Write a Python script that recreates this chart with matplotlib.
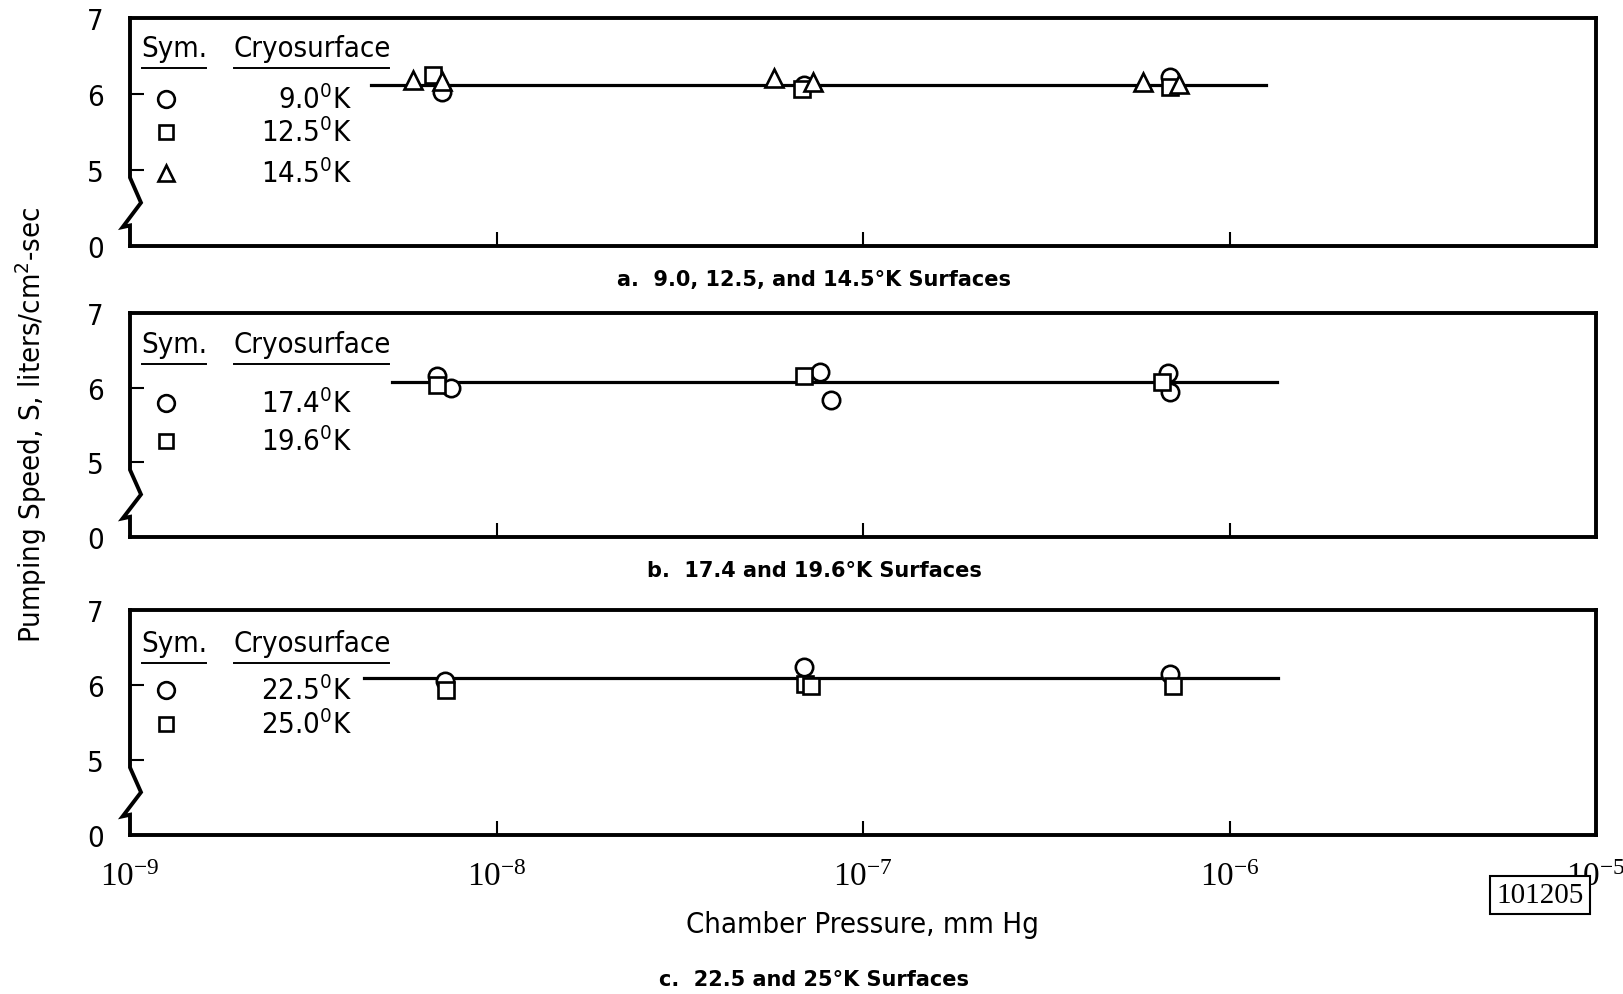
import numpy as np
import matplotlib
matplotlib.use("Agg")
import matplotlib.pyplot as plt

SANS = ["DejaVu Sans"]
SERIF = ["Liberation Serif", "DejaVu Serif"]
plt.rcParams["font.family"] = SANS
plt.rcParams["font.stretch"] = "condensed"
plt.rcParams["mathtext.fontset"] = "custom"

# ---- data (pressure in mm Hg, speed in liters/cm2-sec)
# panel a: 9.0, 12.5, 14.5 K
a_circle_p = [7.1e-9, 6.9e-8, 6.9e-7]
a_circle_s = [6.02, 6.12, 6.22]
a_square_p = [6.7e-9, 6.8e-8, 6.9e-7]
a_square_s = [6.25, 6.07, 6.09]
a_tri_p = [5.9e-9, 7.1e-9, 5.7e-8, 7.3e-8, 5.8e-7, 7.3e-7]
a_tri_s = [6.19, 6.17, 6.21, 6.16, 6.16, 6.13]
a_fit_p = [4.55e-9, 1.26e-6]
a_fit_s = [6.12, 6.12]

# panel b: 17.4, 19.6 K
b_circle_p = [6.9e-9, 7.5e-9, 7.65e-8, 8.2e-8, 6.8e-7, 6.9e-7]
b_circle_s = [6.15, 6.0, 6.21, 5.84, 6.19, 5.94]
b_square_p = [6.9e-9, 6.9e-8, 6.55e-7]
b_square_s = [6.03, 6.16, 6.07]
b_fit_p = [5.2e-9, 1.35e-6]
b_fit_s = [6.08, 6.08]

# panel c: 22.5, 25.0 K
c_circle_p = [7.25e-9, 6.9e-8, 6.9e-7]
c_circle_s = [6.06, 6.24, 6.15]
c_square_p = [7.3e-9, 6.95e-8, 7.2e-8, 7.0e-7]
c_square_s = [5.93, 6.01, 5.99, 5.99]
c_fit_p = [4.35e-9, 1.36e-6]
c_fit_s = [6.1, 6.1]

# broken y axis: real value 0 drawn where 4 would be
y_pos = [4, 5, 6, 7]
y_lab = ["0", "5", "6", "7"]
x_ticks = [1e-9, 1e-8, 1e-7, 1e-6, 1e-5]
x_lab = [r"$\mathregular{10^{-9}}$", r"$\mathregular{10^{-8}}$",
         r"$\mathregular{10^{-7}}$", r"$\mathregular{10^{-6}}$",
         r"$\mathregular{10^{-5}}$"]

panels = [
    dict(series=[("o", a_circle_p, a_circle_s), ("s", a_square_p, a_square_s),
                 ("^", a_tri_p, a_tri_s)],
         fit=(a_fit_p, a_fit_s),
         legend=[("o", r"$\mathregular{9.0^0K}$"), ("s", r"$\mathregular{12.5^0K}$"),
                 ("^", r"$\mathregular{14.5^0K}$")],
         caption="a.  9.0, 12.5, and 14.5°K Surfaces"),
    dict(series=[("o", b_circle_p, b_circle_s), ("s", b_square_p, b_square_s)],
         fit=(b_fit_p, b_fit_s),
         legend=[("o", r"$\mathregular{17.4^0K}$"), ("s", r"$\mathregular{19.6^0K}$")],
         caption="b.  17.4 and 19.6°K Surfaces"),
    dict(series=[("o", c_circle_p, c_circle_s), ("s", c_square_p, c_square_s)],
         fit=(c_fit_p, c_fit_s),
         legend=[("o", r"$\mathregular{22.5^0K}$"), ("s", r"$\mathregular{25.0^0K}$")],
         caption="c.  22.5 and 25°K Surfaces"),
]

W, H = 1624, 995
fig = plt.figure(figsize=(W / 100, H / 100), dpi=100)

# axes boxes in pixels: (top, bottom)
boxes = [(19, 247), (314, 538), (611, 836)]
left_px, right_px = 130, 1596
# legend rows y in pixels (header, rows)
leg_rows = [(49, [100, 133, 174]), (345, [404, 442]), (644, [691, 725])]
cap_y = [280, 571, 980]

for i, (pan, (top, bot)) in enumerate(zip(panels, boxes)):
    ax = fig.add_axes([left_px / W, 1 - bot / H, (right_px - left_px) / W, (bot - top) / H])
    ax.set_xscale("log")
    ax.set_xlim(1e-9, 1e-5)
    ax.set_ylim(4, 7)

    ax.plot(pan["fit"][0], pan["fit"][1], color="black", lw=2.3, zorder=2)
    for m, p, s in pan["series"]:
        ax.plot(p, s, linestyle="none", marker=m, markersize=12.5 if m != "s" else 11,
                mfc="white", mec="black", mew=1.9, zorder=3)

    ax.set_yticks(y_pos)
    ax.set_yticklabels(y_lab, fontsize=21)
    ax.set_xticks(x_ticks)
    ax.xaxis.set_minor_locator(matplotlib.ticker.NullLocator())
    if i == 2:
        ax.set_xticklabels(x_lab, fontsize=24, family=SERIF)
    else:
        ax.set_xticklabels([])
    ax.tick_params(axis="both", direction="in", length=10, width=1.5)
    ax.tick_params(axis="y", pad=19)
    ax.tick_params(axis="x", pad=19)

    for side in ["top", "right", "bottom"]:
        ax.spines[side].set_linewidth(2.8)
    ax.spines["left"].set_visible(False)
    # left spine with break mark
    bx = [0, 0, 0.0075, -0.005, 0.0, 0.0]
    by = [1, 0.30, 0.19, 0.083, 0.09, 0]
    ax.plot(bx, by, transform=ax.transAxes, color="black", lw=2.8,
            clip_on=False, solid_joinstyle="miter", zorder=4)

    # legend
    hy, rows = leg_rows[i]
    fig.text(174 / W, 1 - hy / H, "Sym.", fontsize=21, ha="center", va="center")
    fig.text(312 / W, 1 - hy / H, "Cryosurface", fontsize=21, ha="center", va="center")
    uy = 1 - (hy + 20) / H
    fig.add_artist(plt.Line2D([142 / W, 206 / W], [uy, uy], color="black", lw=1.4))
    fig.add_artist(plt.Line2D([234 / W, 389 / W], [uy, uy], color="black", lw=1.4))
    for (m, lab), ry in zip(pan["legend"], rows):
        fig.add_artist(plt.Line2D([166 / W], [1 - ry / H], marker=m, linestyle="none",
                                  markersize=12 if m != "s" else 10.5, mfc="white",
                                  mec="black", mew=1.9))
        fig.text(352 / W, 1 - ry / H, lab, fontsize=21, ha="right", va="center")

    fig.text(814 / W, 1 - cap_y[i] / H, pan["caption"], fontsize=15, weight="bold",
             stretch="normal", ha="center", va="center")

fig.text(31 / W, 1 - 425 / H, r"Pumping Speed, S, liters/cm$\mathregular{^2}$-sec",
         rotation=90, fontsize=21, ha="center", va="center")
fig.text(862 / W, 1 - 925 / H, "Chamber Pressure, mm Hg", fontsize=21,
         ha="center", va="center")
fig.text(1540 / W, 1 - 896 / H, "101205", fontsize=21, family=SERIF,
         ha="center", va="center",
         bbox=dict(boxstyle="square,pad=0.22", fc="white", ec="black", lw=1.5))

fig.savefig("out.png", dpi=100)
